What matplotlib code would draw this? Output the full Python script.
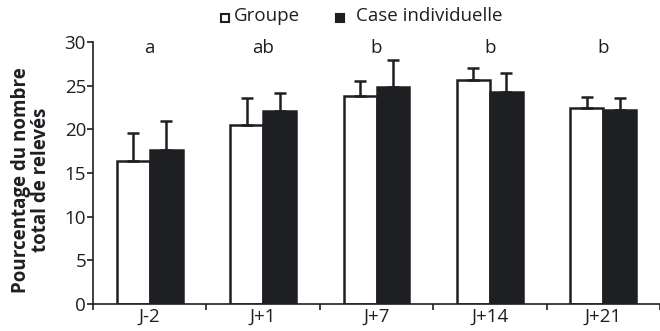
import matplotlib
matplotlib.use("Agg")
import matplotlib.pyplot as plt
import numpy as np
from matplotlib.patches import Rectangle

categories = ["J-2", "J+1", "J+7", "J+14", "J+21"]
groupe = [16.4, 20.5, 23.8, 25.6, 22.4]
groupe_err = [3.2, 3.1, 1.7, 1.4, 1.3]
case = [17.6, 22.1, 24.9, 24.3, 22.2]
case_err = [3.4, 2.1, 3.0, 2.2, 1.4]
letters = ["a", "ab", "b", "b", "b"]
yticks = [0, 5, 10, 15, 20, 25, 30]

plt.rcParams['font.family'] = ['Open Sans', 'DejaVu Sans']
dark = "#1e1f22"
fs = 13.5

fig = plt.figure(figsize=(6.6, 3.31), dpi=100)
ax = fig.add_axes([93/660, 1-304/331, 1-93/660, (304-42)/331])

x = np.arange(len(categories))
w = 0.29
ax.bar(x - w/2, groupe, w, color="white", edgecolor=dark, linewidth=1.8,
       yerr=[np.zeros(5), groupe_err], error_kw=dict(ecolor=dark, elinewidth=1.8, capsize=4, capthick=1.8),
       zorder=2)
ax.bar(x + w/2, case, w, color=dark, edgecolor=dark, linewidth=1.8,
       yerr=[np.zeros(5), case_err], error_kw=dict(ecolor=dark, elinewidth=1.8, capsize=4, capthick=1.8),
       zorder=2)

for xi, l in zip(x, letters):
    ax.text(xi, 29.3, l, ha="center", va="center", fontsize=fs, color=dark)

ax.set_xlim(-0.5, (660-150)/114)
ax.set_ylim(0, 30)
ax.set_yticks(yticks)
ax.set_yticklabels([str(t) for t in yticks], fontsize=fs, color=dark)
ax.set_xticks(x)
ax.set_xticklabels(categories, fontsize=fs, color=dark)
ax.set_xticks(np.arange(-0.5, 4.6, 1), minor=True)
ax.tick_params(axis="x", which="major", length=0, pad=3)
ax.tick_params(axis="x", which="minor", length=4, width=1.2, color=dark, direction="out")
ax.tick_params(axis="y", length=4, width=1.2, color=dark, pad=1)
for s in ["top", "right"]:
    ax.spines[s].set_visible(False)
for s in ["left", "bottom"]:
    ax.spines[s].set_linewidth(1.2)
    ax.spines[s].set_color(dark)

fig.text(31/660, 1-180/331, "Pourcentage du nombre\ntotal de relevés", rotation=90,
         ha="center", va="center", fontsize=13.5, fontweight="bold", color=dark, linespacing=1.05)

# legend
fig.patches.append(Rectangle((221/660, 1-22/331), 8/660, 8/331, transform=fig.transFigure,
                             facecolor="white", edgecolor=dark, linewidth=1.5))
fig.text(234/660, 1-16/331, "Groupe", ha="left", va="center", fontsize=fs, color=dark)
fig.patches.append(Rectangle((336/660, 1-22/331), 8/660, 8/331, transform=fig.transFigure,
                             facecolor=dark, edgecolor=dark, linewidth=1.5))
fig.text(356/660, 1-16/331, "Case individuelle", ha="left", va="center", fontsize=fs, color=dark)

fig.savefig("out.png", dpi=100)
